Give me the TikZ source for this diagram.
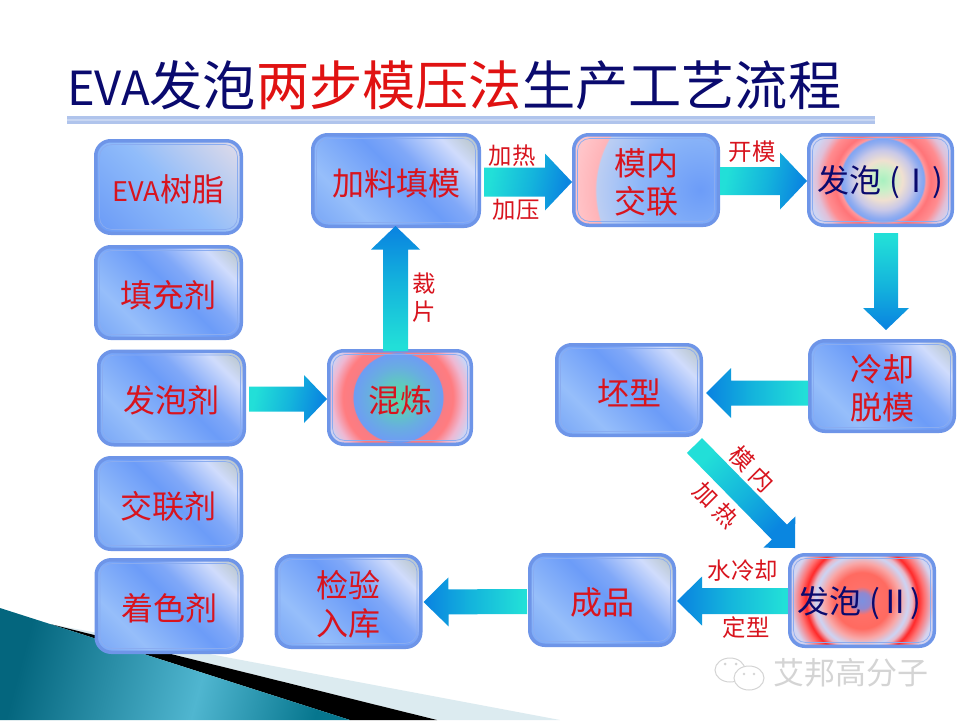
\documentclass[tikz,border=0pt]{standalone}
\usepackage{fontspec}
\usetikzlibrary{calc}
\setmainfont{Noto Sans CJK SC}
\definecolor{navy}{HTML}{0A0A6E}
\definecolor{titlered}{HTML}{E01212}
\definecolor{lab}{HTML}{D8141E}
\definecolor{edgeblue}{HTML}{6E95E8}
\definecolor{innerline}{HTML}{8AACF0}
% gloss
\definecolor{ga}{HTML}{78A6F6}\definecolor{gb}{HTML}{96BEFA}\definecolor{gc}{HTML}{6C9CF8}\definecolor{gf}{HTML}{80A8F8}
\definecolor{gd}{HTML}{D0DCFC}\definecolor{ge}{HTML}{B4C0BE}
\pgfdeclarehorizontalshading{glossbox}{100bp}{color(0bp)=(ga);color(15bp)=(ga);color(31bp)=(gb);color(52bp)=(gc);color(60bp)=(gf);color(74bp)=(gd);color(85bp)=(ge);color(100bp)=(ge)}
\definecolor{ea}{HTML}{6A9AF6}\definecolor{eb}{HTML}{90BCFA}\definecolor{ec}{HTML}{E2DCE8}
\pgfdeclarehorizontalshading{evabox}{100bp}{color(0bp)=(ea);color(15bp)=(ea);color(50bp)=(eb);color(85bp)=(ec);color(100bp)=(ec)}
% arrows
\definecolor{aa}{HTML}{22DFD8}\definecolor{ab}{HTML}{14B4DC}\definecolor{ac}{HTML}{0A86E0}
\pgfdeclarehorizontalshading{arrowshade}{100bp}{color(0bp)=(aa);color(27bp)=(aa);color(52bp)=(ab);color(73bp)=(ac);color(100bp)=(ac)}
% teal corner
\definecolor{ta}{HTML}{04667E}\definecolor{tb}{HTML}{50B6D0}\definecolor{tc}{HTML}{06768E}
\pgfdeclarehorizontalshading{cornershade}{100bp}{color(0bp)=(ta);color(25bp)=(ta);color(55bp)=(tb);color(75bp)=(tc);color(100bp)=(tc)}
% radial fills, 1bp = 8 px of radius
\definecolor{ha}{HTML}{58D8A8}\definecolor{hb}{HTML}{5FC8C0}\definecolor{hc}{HTML}{68AEE0}\definecolor{hd}{HTML}{6E9CF4}
\definecolor{he}{HTML}{F87C84}\definecolor{hf}{HTML}{FF7C80}\definecolor{hg}{HTML}{EEB8D2}\definecolor{hh}{HTML}{CCD4F4}
\pgfdeclareradialshading{mixfill}{\pgfpoint{0bp}{0bp}}{color(0bp)=(ha);color(1.875bp)=(hb);color(3.75bp)=(hc);color(5.6bp)=(hd);color(5.69bp)=(he);color(6.875bp)=(hf);color(8.25bp)=(hg);color(9.4bp)=(hh);color(50bp)=(hh)}
\definecolor{ia}{HTML}{A8F0C0}\definecolor{ib}{HTML}{C8F0C8}\definecolor{ic}{HTML}{F0E0D0}\definecolor{id}{HTML}{C8C8E8}
\definecolor{ie}{HTML}{90ACF0}\definecolor{if}{HTML}{7CA4F4}\definecolor{ig}{HTML}{FF9CA0}\definecolor{ih}{HTML}{FF7478}
\definecolor{ii}{HTML}{FF8C90}\definecolor{ij}{HTML}{E0C0D8}\definecolor{ik}{HTML}{CFD4F2}
\pgfdeclareradialshading{foamone}{\pgfpoint{0bp}{0bp}}{color(0bp)=(ia);color(1.25bp)=(ib);color(2.5bp)=(ic);color(3.75bp)=(id);color(4.75bp)=(ie);color(5.25bp)=(if);color(5.31bp)=(ig);color(6bp)=(ih);color(7.25bp)=(ii);color(8.25bp)=(ij);color(9.25bp)=(ik);color(50bp)=(ik)}
\definecolor{ja}{HTML}{7C90E0}\definecolor{jb}{HTML}{9088D0}\definecolor{jc}{HTML}{FF7068}\definecolor{jd}{HTML}{FF6A60}
\definecolor{je}{HTML}{F8A8A8}\definecolor{jf}{HTML}{CCD4F4}\definecolor{jg}{HTML}{E8B8C8}\definecolor{jh}{HTML}{FF2828}
\definecolor{ji}{HTML}{FF7070}\definecolor{jj}{HTML}{D4D4F0}\definecolor{jk}{HTML}{C0CEF4}
\pgfdeclareradialshading{foamtwo}{\pgfpoint{0bp}{0bp}}{color(0bp)=(ja);color(1bp)=(jb);color(1.75bp)=(jc);color(3.5bp)=(jd);color(4.75bp)=(je);color(5.75bp)=(jf);color(6.25bp)=(jg);color(7bp)=(jh);color(7.75bp)=(ji);color(9bp)=(jj);color(11.25bp)=(jk);color(50bp)=(jk)}
\definecolor{ka}{HTML}{6C9CF8}\definecolor{kb}{HTML}{8CB6F8}\definecolor{kc}{HTML}{A8C4F6}\definecolor{kd}{HTML}{BCCEF2}
\definecolor{ke}{HTML}{FFB4B8}\definecolor{kf}{HTML}{FFC4C8}\definecolor{kg}{HTML}{E4CEE0}
\pgfdeclareradialshading{pinkfill}{\pgfpoint{0bp}{0bp}}{color(0bp)=(ka);color(7.5bp)=(kb);color(10.6bp)=(kc);color(13bp)=(kd);color(13.1bp)=(ke);color(15.6bp)=(kf);color(18.1bp)=(kg);color(50bp)=(kg)}
\newcommand\innerframe{%
  \draw[innerline,line width=.7pt,rounded corners=12pt]
    ($(path picture bounding box.north west)+(3.8,3.8)$) rectangle
    ($(path picture bounding box.south east)+(-3.8,-3.8)$);}
\newcommand\radialfill[3]{%
  \shade[shading=#1] ($(path picture bounding box.center)+(#2,#3)$) circle (200pt);\innerframe}
\newcommand\blockarrow[6]{%
  \coordinate (neck) at ($(#2)!#3pt!(#1)$);
  \path[shade,shading=arrowshade,shading angle=#6]
    ($(#1)!#4pt!90:(#2)$) -- ($(neck)!#4pt!90:(#2)$) -- ($(neck)!#5pt!90:(#2)$) -- (#2)
    -- ($(neck)!#5pt!-90:(#2)$) -- ($(neck)!#4pt!-90:(#2)$) -- ($(#1)!#4pt!-90:(#2)$) -- cycle;}
\newcommand\tx[1]{\raisebox{-2.6pt}[\height][\depth]{#1}}
\tikzset{
  boxbase/.style={rectangle,rounded corners=15pt,draw=edgeblue,line width=3.5pt,inner sep=0pt,
    align=center,text=lab,font=\fontsize{32}{38}\selectfont},
  boxsize/.style 2 args={minimum width=#1pt-3.5pt,minimum height=#2pt-3.5pt},
  glossy/.style={boxbase,shade,shading=glossbox,shading angle=45,path picture={\innerframe}},
  evastyle/.style={boxbase,shade,shading=evabox,shading angle=45,path picture={\innerframe}},
  mixstyle/.style={boxbase,fill=white,path picture={\radialfill{mixfill}{-2}{0}}},
  foamonestyle/.style={boxbase,fill=white,text=navy,path picture={\radialfill{foamone}{2}{0}}},
  foamtwostyle/.style={boxbase,fill=white,text=navy,path picture={\radialfill{foamtwo}{0}{0}}},
  pinkstyle/.style={boxbase,fill=white,path picture={\radialfill{pinkfill}{54}{10}}},
  edgelabel/.style={inner sep=0pt,text=lab,align=center,font=\fontsize{23.4}{28}\selectfont},
}
\begin{document}
\begin{tikzpicture}[x=1pt,y=-1pt]
\useasboundingbox (0,0) rectangle (960,720);
\fill[white] (0,0) rectangle (960,720);
% lower left corner
\fill[fill={rgb,255:red,220;green,235;blue,240}] (50,624) -- (560,720) -- (437,720) -- cycle;
\fill[black] (50,624) -- (437,720) -- (350,720) -- cycle;
\path[shade,shading=cornershade,shading angle=-15] (0,608) -- (350,720) -- (0,720) -- cycle;
% title
\node[anchor=west,inner sep=0pt,text=navy,font=\fontsize{53.2}{60}\selectfont] (title) at (67,85)
  {{\fontsize{47}{60}\selectfont EVA}发泡\textcolor{titlered}{两步模压法}生产工艺流程};
\fill[fill={rgb,255:red,176;green,196;blue,236}] (67,116) rectangle (875,123.5);
\fill[fill={rgb,255:red,200;green,214;blue,242}] (67,119) rectangle (875,120.5);
% boxes
\node[evastyle,boxsize={149}{96}] (eva) at (168.5,187) {\tx{{\fontsize{27}{38}\selectfont EVA}树脂}};
\node[glossy,boxsize={149}{95}] (tcj) at (168.5,292.5) {\tx{填充剂}};
\node[glossy,boxsize={149}{97}] (fpj) at (171.5,398) {\tx{发泡剂}};
\node[glossy,boxsize={149}{95}] (jlj) at (168.5,503.5) {\tx{交联剂}};
\node[glossy,boxsize={149}{96}] (zsj) at (169,606) {\tx{着色剂}};
\node[glossy,boxsize={170}{95}] (jltm) at (396,180.5) {\tx{加料填模}};
\node[pinkstyle,boxsize={148}{94}] (mnjl) at (646,180) {\tx{模内}\\\tx{交联}};
\node[foamonestyle,boxsize={147}{94}] (fpone) at (880.5,180) {\tx{发泡\kern8pt(\kern0pt Ⅰ\kern0pt)}};
\node[glossy,boxsize={148}{94}] (lqtm) at (882,386) {\tx{冷却}\\\tx{脱模}};
\node[glossy,boxsize={148}{94}] (px) at (629,390) {\tx{坯型}};
\node[mixstyle,boxsize={146}{97}] (hl) at (400,397.5) {\tx{混炼}};
\node[glossy,boxsize={148}{94}] (cp) at (602,600) {\tx{成品}};
\node[glossy,boxsize={148}{95}] (jyrk) at (348.5,601.5) {\tx{检验}\\\tx{入库}};
\node[foamtwostyle,boxsize={148}{95}] (fptwo) at (862,600.5) {\tx{\kern-6pt 发泡\kern8pt(\kern-1pt Ⅱ\kern-1pt)}};
% block arrows between the boxes
\blockarrow{$(fpj.east)+(3,1)$}{$(hl.west)+(0,1.5)$}{23}{12.5}{24}{-12}
\blockarrow{$(hl.north)+(-4.5,2)$}{$(jltm.south)+(-0.5,-2)$}{23.5}{12.5}{24.5}{90}
\blockarrow{$(jltm.east)+(3,1.5)$}{$(mnjl.west)+(0,2)$}{27}{14.5}{28.5}{-12}
\blockarrow{$(mnjl.east)+(0,1)$}{$(fpone.west)+(0,1)$}{27}{14}{28.5}{-12}
\blockarrow{$(fpone.south)+(5.5,6)$}{$(lqtm.north)+(4,-9)$}{22}{12}{23}{-90}
\blockarrow{$(lqtm.west)+(0,7)$}{$(px.east)+(3,3)$}{25}{12.5}{25}{180}
\blockarrow{$(px.south east)+(-8.5,8.5)$}{$(fptwo.north west)+(7,-5)$}{22.3}{10.6}{22.3}{-45}
\blockarrow{$(fptwo.west)+(0,0.5)$}{$(cp.east)+(1,1)$}{25}{13}{24.5}{180}
\blockarrow{$(cp.west)+(-1,1.5)$}{$(jyrk.east)+(1,0.5)$}{25}{12.5}{24.5}{180}
% connector labels
\node[edgelabel] (ljr) at (512,156) {加热};
\node[edgelabel] (ljy) at (516,210) {加压};
\node[edgelabel] (lkm) at (752,152) {开模};
\node[edgelabel] (lcp) at (424,298) {裁\\片};
\node[edgelabel,rotate=-45] (lmn) at (752,469) {模\kern6pt内};
\node[edgelabel,rotate=-45] (ljrb) at (716,505) {加\kern6pt热};
\node[edgelabel] (lslq) at (743,571) {水冷却};
\node[edgelabel] (ldx) at (746,628) {定型};
% watermark
\node[inner sep=0pt,text={rgb,255:red,212;green,212;blue,212},font=\fontsize{31}{36}\selectfont] (mark) at (851,673) {艾邦高分子};
\draw[line width=1pt,draw={rgb,255:red,212;green,212;blue,212}] (730,670) ellipse (15pt and 12pt);
\fill[white] (749,678) ellipse (15pt and 12pt);
\draw[line width=1pt,draw={rgb,255:red,212;green,212;blue,212}] (749,678) ellipse (15pt and 12pt);
\fill[fill={rgb,255:red,212;green,212;blue,212}] (725,664) circle (1.5pt) (736,664) circle (1.5pt) (744,674) circle (1.3pt) (754,674) circle (1.3pt);
\end{tikzpicture}
\end{document}
